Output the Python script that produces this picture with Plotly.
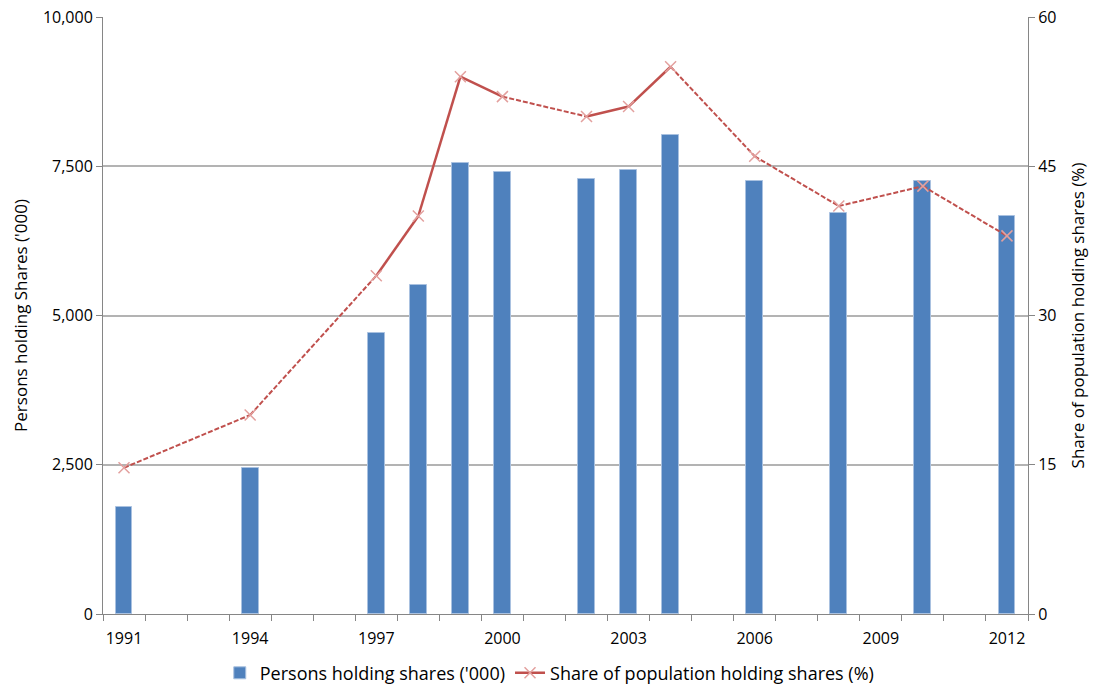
import plotly.graph_objects as go

years = [1991, 1994, 1997, 1998, 1999, 2000, 2002, 2003, 2004, 2006, 2008, 2010, 2012]
persons_000 = [1790, 2450, 4700, 5510, 7560, 7410, 7290, 7440, 8030, 7260, 6710, 7260, 6670]
share_pct = [14.7, 20, 34, 40, 54, 52, 50, 51, 55, 46, 41, 43, 38]
left_ticks = [0, 2500, 5000, 7500, 10000]
right_ticks = [0, 15, 30, 45, 60]
year_labels = list(range(1991, 2013, 3))

BAR = "#4f81bd"
LINE = "#c0504d"
MARK = "#e3a09e"
GRID = "#b3b3b3"
AXIS = "#868686"
FONT = "Open Sans"

# split the line into solid (consecutive years) and dashed (gap) segments
solid_x, solid_y, dash_x, dash_y = [], [], [], []
for i in range(len(years) - 1):
    seg_x = [years[i], years[i + 1], None]
    seg_y = [share_pct[i], share_pct[i + 1], None]
    if years[i + 1] - years[i] == 1:
        solid_x += seg_x
        solid_y += seg_y
    else:
        dash_x += seg_x
        dash_y += seg_y

fig = go.Figure()
fig.add_trace(go.Bar(
    x=years, y=persons_000, name="Persons holding shares ('000)",
    marker=dict(color=BAR, line=dict(color="#a9c1e0", width=1)),
    width=0.4, yaxis="y",
))
fig.add_trace(go.Scatter(
    x=dash_x, y=dash_y, mode="lines", yaxis="y2", showlegend=False,
    line=dict(color=LINE, width=2, dash="5px,2px"), hoverinfo="skip",
))
fig.add_trace(go.Scatter(
    x=solid_x, y=solid_y, mode="lines", yaxis="y2", showlegend=False,
    line=dict(color=LINE, width=2.5), hoverinfo="skip",
))
fig.add_trace(go.Scatter(
    x=years, y=share_pct, mode="markers", yaxis="y2", showlegend=False,
    marker=dict(symbol="x-thin", size=11, line=dict(color=MARK, width=1.5)),
))
# legend entry for the share series
fig.add_trace(go.Scatter(
    x=[None], y=[None], mode="lines+markers", yaxis="y2",
    name="Share of population holding shares (%)",
    line=dict(color=LINE, width=2.5),
    marker=dict(symbol="x-thin", size=11, line=dict(color=MARK, width=1.5)),
))

fig.update_layout(
    width=1094, height=686,
    margin=dict(l=103, r=66, t=17, b=72, autoexpand=False),
    paper_bgcolor="white", plot_bgcolor="white",
    font=dict(family=FONT, size=16, color="#000000"),
    bargap=0,
    showlegend=True,
    legend=dict(orientation="h", x=0.483, xanchor="center", y=-0.099, yanchor="middle",
                font=dict(size=18), itemwidth=30, tracegroupgap=0),
    xaxis=dict(
        range=[1990.5, 2012.5], tickmode="array", tickvals=year_labels,
        ticks="", showgrid=False, zeroline=False, automargin=False,
        showline=True, linecolor=AXIS, linewidth=1, ticklabelstandoff=10,
        minor=dict(tickmode="array", tickvals=[y + 0.5 for y in range(1990, 2013)],
                   ticks="outside", ticklen=6, tickcolor=AXIS, showgrid=False),
        tickfont=dict(size=16),
    ),
    yaxis=dict(
        range=[0, 10000], tickmode="array", tickvals=left_ticks,
        tickformat=",", showgrid=True, gridcolor=GRID, gridwidth=1.5,
        zeroline=False, showline=True, linecolor=AXIS, automargin=False,
        ticks="outside", ticklen=6, tickcolor=AXIS,
        title=dict(text="Persons holding Shares ('000)", font=dict(size=17), standoff=10),
        tickfont=dict(size=16),
    ),
    yaxis2=dict(
        range=[0, 60], tickmode="array", tickvals=right_ticks,
        overlaying="y", side="right", showgrid=False, zeroline=False,
        showline=True, linecolor=AXIS, automargin=False,
        ticks="outside", ticklen=6, tickcolor=AXIS,
        title=dict(text="Share of population holding shares (%)", font=dict(size=17), standoff=16),
        tickfont=dict(size=16),
    ),
)

fig.write_html("out.html")
